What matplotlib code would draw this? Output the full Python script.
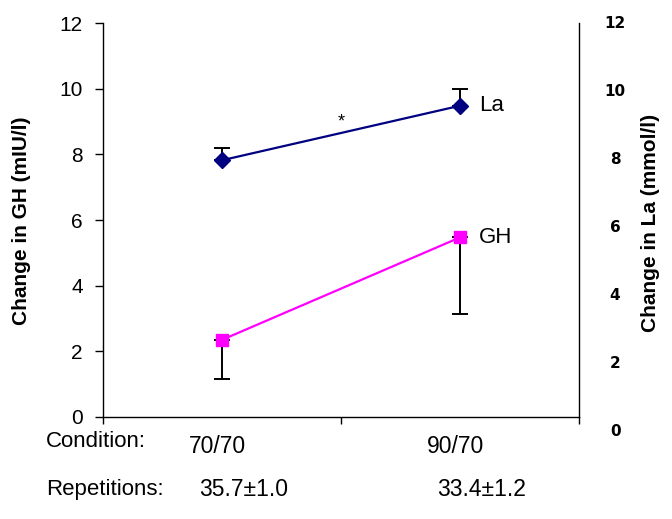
import matplotlib
matplotlib.use("Agg")
import matplotlib.pyplot as plt
import matplotlib.transforms as mtransforms

plt.rcParams['font.family'] = ['Liberation Sans', 'DejaVu Sans']

# Data
conditions = ["70/70", "90/70"]
repetitions = ["35.7\u00b11.0", "33.4\u00b11.2"]
la_values = [7.82, 9.48]          # change in lactate (mmol/l)
la_err_upper = [0.38, 0.50]
gh_values = [2.35, 5.47]          # change in GH (mIU/l)
gh_err_lower = [1.18, 2.34]
y_ticks = [0, 2, 4, 6, 8, 10, 12]
x_pos = [0.5, 1.5]

W, H = 672, 519
fig = plt.figure(figsize=(W / 100, H / 100), dpi=100)

# main axes (pixel box converted to figure fractions)
left, right, top, bottom = 103, 579, 23, 417
ax = fig.add_axes([left / W, 1 - bottom / H, (right - left) / W, (bottom - top) / H])
ax.set_xlim(0, 2)
ax.set_ylim(0, 12)
ax.set_yticks(y_ticks)
ax.set_xticks([0, 1, 2])
ax.set_xticklabels([])
ax.spines['top'].set_visible(False)
for s in ('left', 'bottom', 'right'):
    ax.spines[s].set_linewidth(1.0)
    ax.spines[s].set_color('black')
ax.tick_params(axis='y', direction='out', length=5.5, width=1, labelsize=15, pad=9)
ax.tick_params(axis='x', direction='out', length=5, width=1)

ax.set_ylabel("Change in GH (mIU/l)", fontsize=15, fontweight='bold')
ax.yaxis.set_label_coords(-0.152, 0.497)

# lactate series
ax.plot(x_pos, la_values, color='#000080', lw=1.6, marker='D', ms=8, zorder=3)
ax.errorbar(x_pos, la_values, yerr=[[0, 0], la_err_upper], fmt='none',
            ecolor='black', elinewidth=1.4, capsize=6, capthick=1.4, zorder=2)
# GH series
ax.plot(x_pos, gh_values, color='#FF00FF', lw=1.6, marker='s', ms=8, zorder=3)
ax.errorbar(x_pos, gh_values, yerr=[gh_err_lower, [0, 0]], fmt='none',
            ecolor='black', elinewidth=1.4, capsize=6, capthick=1.4, zorder=2)

ax.text(x_pos[1] + 0.08, la_values[1], "La", fontsize=16, va='center', ha='left')
ax.text(x_pos[1] + 0.08, gh_values[1], "GH", fontsize=16, va='center', ha='left')
ax.text(1.0, 9.0, "*", fontsize=13, ha='center', va='center')

# condition / repetition rows under the axis
blend = mtransforms.blended_transform_factory(ax.transData, ax.transAxes)
ax.text(-0.24, -0.063, "Condition:", transform=blend, fontsize=16, ha='left', va='center')
ax.text(-0.24, -0.185, "Repetitions:", transform=blend, fontsize=16, ha='left', va='center')
for xp, c, r in zip(x_pos, conditions, repetitions):
    ax.text(xp - 0.02, -0.076, c, transform=blend, fontsize=16.5, ha='center', va='center')
    ax.text(xp + 0.09, -0.185, r, transform=blend, fontsize=16.5, ha='center', va='center')

# right-hand scale for lactate
r_top, r_bottom = 22, 430
axr = fig.add_axes([left / W, 1 - r_bottom / H, (right - left) / W, (r_bottom - r_top) / H])
axr.set_ylim(0, 12)
axr.set_xlim(0, 1)
axr.patch.set_visible(False)
for s in axr.spines.values():
    s.set_visible(False)
axr.set_xticks([])
axr.yaxis.tick_right()
axr.set_yticks(y_ticks)
axr.tick_params(axis='y', length=0, labelsize=11, pad=26)
for lbl in axr.get_yticklabels():
    lbl.set_fontweight('bold')
    lbl.set_family('DejaVu Sans')
    lbl.set_horizontalalignment('center')
axr.set_ylabel("Change in La (mmol/l)", fontsize=15, fontweight='bold', rotation=90)
axr.yaxis.set_label_position('right')
axr.yaxis.set_label_coords(1.13, 0.508)

fig.savefig("out.png", dpi=100)
